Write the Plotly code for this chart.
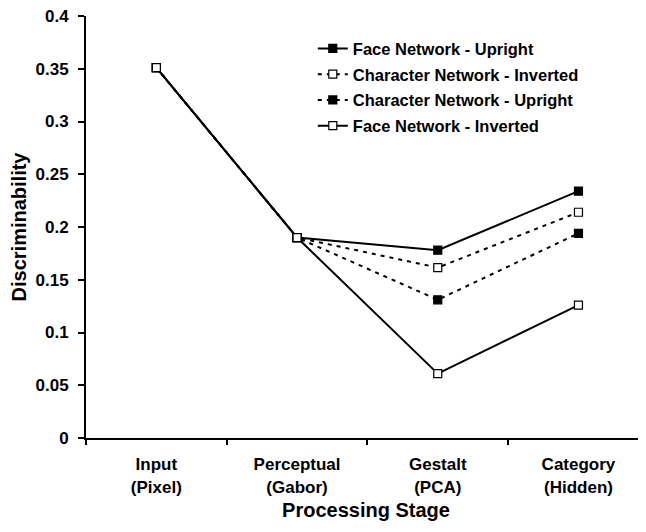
import plotly.graph_objects as go

stages = ["Input<br>(Pixel)", "Perceptual<br>(Gabor)", "Gestalt<br>(PCA)", "Category<br>(Hidden)"]
face_upright = [0.351, 0.190, 0.178, 0.234]
char_inverted = [0.351, 0.190, 0.1615, 0.214]
char_upright = [0.351, 0.190, 0.131, 0.194]
face_inverted = [0.351, 0.190, 0.061, 0.126]
y_ticks = [0, 0.05, 0.1, 0.15, 0.2, 0.25, 0.3, 0.35, 0.4]
y_tick_text = ["0", "0.05", "0.1", "0.15", "0.2", "0.25", "0.3", "0.35", "0.4"]

series = [
    ("Face Network - Upright", face_upright, "solid", "black"),
    ("Character Network - Inverted", char_inverted, "4px,5px", "white"),
    ("Character Network - Upright", char_upright, "4px,5px", "black"),
    ("Face Network - Inverted", face_inverted, "solid", "white"),
]

fig = go.Figure()
for i, (name, vals, dash, fill) in enumerate(series):
    fig.add_trace(go.Scatter(
        x=stages, y=vals, name=name, mode="lines+markers", legendgroup=f"g{i}",
        line=dict(color="black", width=2, dash=dash),
        marker=dict(symbol="square", size=8, color=fill,
                    line=dict(color="black", width=1.2)),
    ))

font = "Liberation Sans, Arial, sans-serif"
# page body has an 8px margin; figure sized to fill the rest of the window
fig.update_layout(
    width=638, height=524,
    margin=dict(l=78, r=0, t=8, b=94),
    plot_bgcolor="white", paper_bgcolor="white",
    font=dict(family=font, color="black", size=17),
    showlegend=True,
    legend=dict(x=0.405, y=0.964, xanchor="left", yanchor="top",
                bgcolor="rgba(0,0,0,0)", tracegroupgap=1.3,
                font=dict(size=16.5, family=font, weight="bold"),
                itemwidth=30),
    xaxis=dict(
        type="category", range=[-0.5, 3.48], automargin=False,
        showline=True, linecolor="black", linewidth=2,
        ticks="outside", tickson="boundaries", ticklen=5, tickcolor="black", tickwidth=1.5,
        ticklabelstandoff=10,
        showgrid=False, zeroline=False,
        tickfont=dict(size=17, family=font, weight="bold"),
        title=dict(text="Processing Stage", font=dict(size=20, family=font, weight="bold"), standoff=7),
    ),
    yaxis=dict(
        range=[0, 0.4], tickvals=y_ticks, ticktext=y_tick_text, automargin=False,
        showline=True, linecolor="black", linewidth=2,
        ticks="outside", ticklen=6, tickcolor="black", tickwidth=1.5,
        ticklabelstandoff=6, ticklabeloverflow="allow",
        showgrid=False, zeroline=False,
        tickfont=dict(size=17, family=font, weight="bold"),
        title=dict(text="Discriminability", font=dict(size=20, family=font, weight="bold"), standoff=8),
    ),
)

fig.write_html("out.html")
